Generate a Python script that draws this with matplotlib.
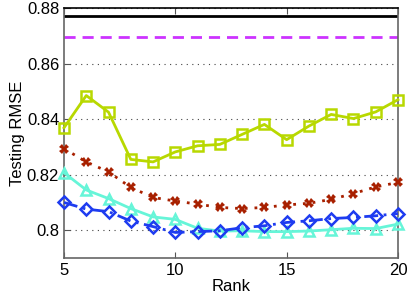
import matplotlib
matplotlib.use("Agg")
import matplotlib.pyplot as plt
import numpy as np

plt.rcParams['font.family'] = ['Liberation Sans', 'DejaVu Sans']

rank = np.arange(5, 21)
green_sq = [0.8369, 0.8485, 0.8425, 0.8255, 0.8246, 0.8282, 0.8304, 0.8309,
            0.8345, 0.8381, 0.8326, 0.8375, 0.8417, 0.8402, 0.8426, 0.8470]
red_x = [0.8294, 0.8246, 0.8210, 0.8154, 0.8118, 0.8105, 0.8094, 0.8082,
         0.8078, 0.8082, 0.8091, 0.8097, 0.8111, 0.8132, 0.8156, 0.8172]
cyan_tri = [0.8207, 0.8145, 0.8114, 0.8078, 0.8048, 0.8039, 0.8007, 0.7997,
            0.7998, 0.7995, 0.7995, 0.7997, 0.8002, 0.8007, 0.8006, 0.8022]
blue_dia = [0.8100, 0.8076, 0.8067, 0.8033, 0.8013, 0.7992, 0.7995, 0.7998,
            0.8009, 0.8016, 0.8028, 0.8034, 0.8042, 0.8046, 0.8052, 0.8060]
black_const = 0.8770
magenta_const = 0.8696

fig = plt.figure(figsize=(4.09, 3.03), dpi=100)
ax = fig.add_axes([0.1565, 0.1485, 0.8165, 0.825])

ax.axhline(black_const, color='black', lw=2)
ax.axhline(magenta_const, color='#cc33ff', lw=2, ls=(0, (4, 2.5)))
ax.plot(rank, green_sq, color='#b8d800', lw=2, marker='s', ms=6.5,
        mfc='none', mew=1.8, clip_on=False, zorder=5)
ax.plot(rank, red_x, color='#a82000', lw=2, ls=(0, (1, 2.5)), marker='X',
        ms=7, mew=0, clip_on=False, zorder=5)
ax.plot(rank, cyan_tri, color='#66f5d8', lw=2, marker='^', ms=7.5,
        mfc='none', mew=1.8, clip_on=False, zorder=5)
ax.plot(rank, blue_dia, color='#1e3cf0', lw=2, ls=(0, (5, 2, 1, 2)),
        marker='D', ms=6.5, mfc='none', mew=1.8, clip_on=False, zorder=5)

ax.set_xlim(5, 20)
ax.set_ylim(0.790, 0.880)
ax.set_xticks([5, 10, 15, 20])
ax.set_yticks([0.80, 0.82, 0.84, 0.86, 0.88])
ax.set_yticklabels(['0.8', '0.82', '0.84', '0.86', '0.88'])
ax.tick_params(direction='in', top=True, right=False, labelsize=12,
               length=4, color='#555555')
ax.grid(axis='y', ls=(0, (1, 4)), color='#444444', lw=0.8)
for s in ax.spines.values():
    s.set_color('#666666')
    s.set_linewidth(1.2)
ax.spines['top'].set_color('black')
ax.set_xlabel('Rank', fontsize=12, labelpad=1)
ax.set_ylabel('Testing RMSE', fontsize=12, labelpad=1)

fig.savefig('out.png', dpi=100)
